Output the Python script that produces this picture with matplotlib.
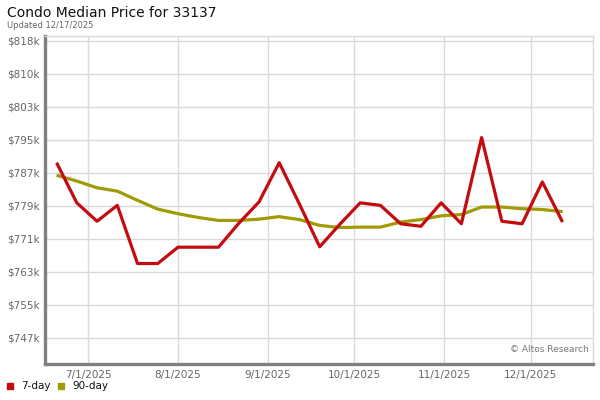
import matplotlib
matplotlib.use("Agg")
import matplotlib.pyplot as plt
import matplotlib.dates as mdates
import numpy as np
import pandas as pd

title = "Condo Median Price for 33137"
subtitle = "Updated 12/17/2025"
dates = pd.date_range("2025-06-20", periods=26, freq="7D")
seven_day = [789.2, 779.6, 775.2, 779.0, 765.1, 765.1, 769.0, 769.0, 769.0, 774.7,
             779.8, 789.2, 779.3, 769.1, 774.5, 779.6, 779.0, 774.6, 774.0, 779.6,
             774.6, 795.2, 775.2, 774.6, 784.6, 775.0]
ninety_day = [786.2, 784.8, 783.2, 782.4, 780.2, 778.1, 777.0, 776.1, 775.4, 775.4,
              775.7, 776.3, 775.6, 774.2, 773.7, 773.8, 773.8, 775.0, 775.6, 776.5,
              776.8, 778.6, 778.6, 778.2, 778.0, 777.5]
y_ticks = [747.4 + 7.88 * i for i in range(10)]
x_ticks = ["2025-07-01", "2025-08-01", "2025-09-01", "2025-10-01", "2025-11-01", "2025-12-01"]
x_labels = ["7/1/2025", "8/1/2025", "9/1/2025", "10/1/2025", "11/1/2025", "12/1/2025"]

red = "#c40c10"
olive = "#a09a04"

fig = plt.figure(figsize=(6, 4), dpi=100)
ax = fig.add_axes([45/600, 1 - 363.5/400, (593.3 - 45)/600, (363.5 - 35.5)/400])

ax.plot(dates, ninety_day, color=olive, lw=2.3, solid_capstyle="butt", zorder=3)
ax.plot(dates, seven_day, color=red, lw=2.3, solid_capstyle="butt", zorder=4)

ax.set_ylim(741.2, 819.6)
ax.set_xlim(pd.Timestamp("2025-06-16"), pd.Timestamp("2025-12-22 15:00"))
ax.set_yticks(y_ticks)
ax.set_yticklabels([f"${v:.0f}k" for v in y_ticks])
xt = [pd.Timestamp(d) for d in x_ticks]
ax.set_xticks(xt)
ax.set_xticklabels(x_labels)

ax.grid(True, color="#d9d9d9", lw=1)
ax.set_axisbelow(True)
ax.tick_params(length=0, labelsize=7.5, colors="#666666", pad=4)
ax.tick_params(axis="x", pad=5)

for s in ["top", "right"]:
    ax.spines[s].set_color("#d9d9d9")
    ax.spines[s].set_linewidth(1)
for s in ["left", "bottom"]:
    ax.spines[s].set_color("#808080")
    ax.spines[s].set_linewidth(2.4)

ax.text(0.992, 0.03, "© Altos Research", transform=ax.transAxes, ha="right", va="bottom",
        fontsize=6.5, color="#777777")

fig.text(7/600, 1 - 13/400, title, fontsize=10, color="#111111", va="center", ha="left")
fig.text(7/600, 1 - 25/400, subtitle, fontsize=6, color="#666666", va="center", ha="left")

# legend
fig.patches.append(matplotlib.patches.Rectangle((7/600, 1 - 389/400), 6/600, 6/400,
                   transform=fig.transFigure, color=red, figure=fig))
fig.text(21/600, 1 - 386/400, "7-day", fontsize=7.5, color="#111111", va="center")
fig.patches.append(matplotlib.patches.Rectangle((58/600, 1 - 389/400), 6/600, 6/400,
                   transform=fig.transFigure, color=olive, figure=fig))
fig.text(72/600, 1 - 386/400, "90-day", fontsize=7.5, color="#111111", va="center")

fig.savefig("out.png", dpi=100)
